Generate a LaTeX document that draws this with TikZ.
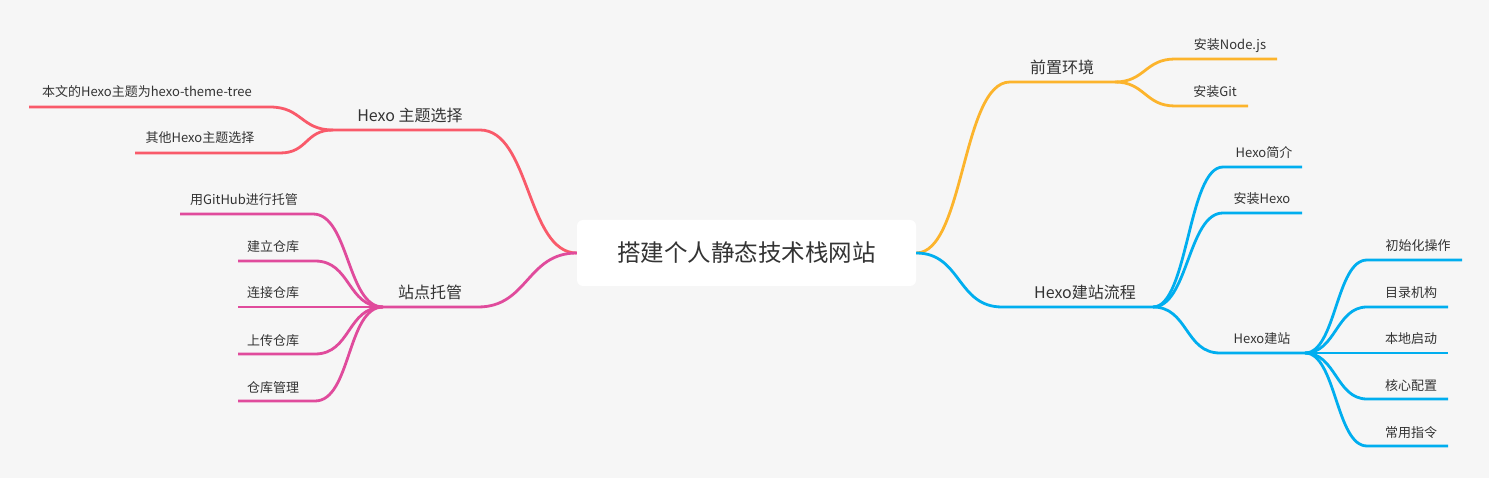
\documentclass[tikz,border=0pt]{standalone}
\usepackage{fontspec}
\setmainfont{Noto Sans CJK SC}
\definecolor{bg}{HTML}{F6F6F6}
\definecolor{txt}{HTML}{333333}
\definecolor{cred}{HTML}{F95A6A}
\definecolor{cpink}{HTML}{E04B9C}
\definecolor{corange}{HTML}{FCB42C}
\definecolor{cblue}{HTML}{00AEEF}
\tikzset{
  rootbox/.style={fill=white, rounded corners=6pt, minimum width=339pt, minimum height=66pt, inner sep=0pt, text=txt, font=\fontsize{23.5}{24}\selectfont},
  topic/.style={anchor=base, inner sep=0pt, text=txt, font=\fontsize{16}{16}\selectfont},
  leaf/.style={anchor=base, inner sep=0pt, text=txt, font=\fontsize{13}{13}\selectfont},
  branch/.style={line width=2.8pt},
}
\begin{document}
\begin{tikzpicture}[x=1pt,y=-1pt]
\fill[bg] (0,0) rectangle (1489,478);
\useasboundingbox (0,0) rectangle (1489,478);

\node[rootbox] (root) at (746.5,253) {搭建个人静态技术栈网站};

% ---- Hexo 主题选择 (red)
\coordinate (t1e) at (480,130);
\coordinate (t1s) at (333,130);
\node[topic] (t1) at (410,122) {Hexo 主题选择};
\draw[branch,cred] (root.west) .. controls +(-50,0) and +(50,0) .. (t1e) -- (t1s);
\coordinate (r1e) at (270,107); \coordinate (r1s) at (29,107);
\coordinate (r2e) at (280,153); \coordinate (r2s) at (135,153);
\node[leaf] (r1) at (147,97) {本文的Hexo主题为hexo-theme-tree};
\node[leaf] (r2) at (200,143) {其他Hexo主题选择};
\draw[branch,cred] (t1s) .. controls +(-32,0) and +(32,0) .. (r1e) -- (r1s);
\draw[branch,cred] (t1s) .. controls +(-28,0) and +(28,0) .. (r2e) -- (r2s);

% ---- 站点托管 (pink)
\coordinate (t2e) at (478,307);
\coordinate (t2s) at (383,307);
\node[topic] (t2) at (430,299) {站点托管};
\draw[branch,cpink] (root.west) .. controls +(-50,0) and +(50,0) .. (t2e) -- (t2s);
\coordinate (p1e) at (313,214); \coordinate (p1s) at (180,214);
\coordinate (p2e) at (315,261); \coordinate (p2s) at (238,261);
\coordinate (p3e) at (315,307); \coordinate (p3s) at (238,307);
\coordinate (p4e) at (315,354); \coordinate (p4s) at (238,354);
\coordinate (p5e) at (315,401); \coordinate (p5s) at (238,401);
\node[leaf] (p1) at (244,205) {用GitHub进行托管};
\node[leaf] (p2) at (273,252) {建立仓库};
\node[leaf] (p3) at (273,298) {连接仓库};
\node[leaf] (p4) at (273,345) {上传仓库};
\node[leaf] (p5) at (273,392) {仓库管理};
\foreach \i in {1,...,5}
  \draw[branch,cpink] (t2s) .. controls +(-36,0) and +(36,0) .. (p\i e) -- (p\i s);

% ---- 前置环境 (orange)
\coordinate (t3e) at (1010,82);
\coordinate (t3s) at (1115,82);
\node[topic] (t3) at (1062,74) {前置环境};
\draw[branch,corange] (root.east) .. controls +(48,0) and +(-48,0) .. (t3e) -- (t3s);
\coordinate (o1e) at (1175,59); \coordinate (o1s) at (1277,59);
\coordinate (o2e) at (1175,106); \coordinate (o2s) at (1248,106);
\node[leaf] (o1) at (1230,50) {安装Node.js};
\node[leaf] (o2) at (1215,97) {安装Git};
\draw[branch,corange] (t3s) .. controls +(30,0) and +(-30,0) .. (o1e) -- (o1s);
\draw[branch,corange] (t3s) .. controls +(30,0) and +(-30,0) .. (o2e) -- (o2s);

% ---- Hexo建站流程 (blue)
\coordinate (t4e) at (1002,307);
\coordinate (t4s) at (1153,307);
\node[topic] (t4) at (1085,299) {Hexo建站流程};
\draw[branch,cblue] (root.east) .. controls +(45,0) and +(-45,0) .. (t4e) -- (t4s);
\coordinate (b1e) at (1223,167); \coordinate (b1s) at (1302,167);
\coordinate (b2e) at (1223,213); \coordinate (b2s) at (1302,213);
\coordinate (b3e) at (1220,353); \coordinate (b3s) at (1305,353);
\node[leaf] (b1) at (1264,158) {Hexo简介};
\node[leaf] (b2) at (1262,204) {安装Hexo};
\node[leaf] (b3) at (1262,344) {Hexo建站};
\foreach \i in {1,2,3}
  \draw[branch,cblue] (t4s) .. controls +(35,0) and +(-35,0) .. (b\i e) -- (b\i s);

\coordinate (c1e) at (1367,260); \coordinate (c1s) at (1462,260);
\coordinate (c2e) at (1367,307); \coordinate (c2s) at (1448,307);
\coordinate (c3e) at (1367,353); \coordinate (c3s) at (1448,353);
\coordinate (c4e) at (1367,399); \coordinate (c4s) at (1448,399);
\coordinate (c5e) at (1367,446); \coordinate (c5s) at (1448,446);
\node[leaf] (c1) at (1418,251) {初始化操作};
\node[leaf] (c2) at (1411,298) {目录机构};
\node[leaf] (c3) at (1411,344) {本地启动};
\node[leaf] (c4) at (1411,390) {核心配置};
\node[leaf] (c5) at (1411,437) {常用指令};
\foreach \i in {1,...,5}
  \draw[branch,cblue] (b3s) .. controls +(31,0) and +(-31,0) .. (c\i e) -- (c\i s);
\end{tikzpicture}
\end{document}
